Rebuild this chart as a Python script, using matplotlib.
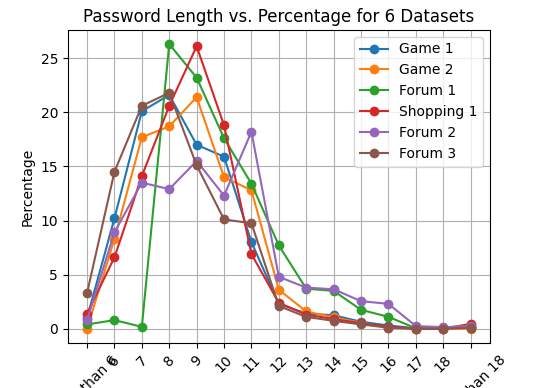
import matplotlib
matplotlib.use('Agg')
import matplotlib.pyplot as plt

categories = ['Less than 6', '6', '7', '8', '9', '10', '11', '12', '13', '14', '15', '16', '17', '18', 'More than 18']

game1 = [1.0, 10.2, 20.1, 21.6, 17.0, 15.9, 8.0, 2.3, 1.4, 1.25, 0.65, 0.3, 0.05, 0.05, 0.2]
game2 = [0.0, 8.3, 17.7, 18.7, 21.4, 14.0, 12.8, 3.6, 1.6, 1.05, 0.55, 0.1, 0.0, 0.0, 0.0]
forum1 = [0.4, 0.8, 0.18, 26.3, 23.2, 17.6, 13.4, 7.7, 3.7, 3.5, 1.75, 1.1, 0.05, 0.05, 0.1]
shopping1 = [1.4, 6.6, 14.1, 20.6, 26.1, 18.8, 6.9, 2.4, 1.3, 0.9, 0.5, 0.2, 0.0, 0.0, 0.45]
forum2 = [0.8, 8.9, 13.5, 12.9, 15.5, 12.3, 18.2, 4.8, 3.8, 3.65, 2.55, 2.3, 0.25, 0.15, 0.25]
forum3 = [3.3, 14.5, 20.6, 21.8, 15.1, 10.1, 9.75, 2.1, 1.1, 0.73, 0.4, 0.1, 0.0, 0.0, 0.1]

series = [('Game 1', game1), ('Game 2', game2), ('Forum 1', forum1),
          ('Shopping 1', shopping1), ('Forum 2', forum2), ('Forum 3', forum3)]

fig, ax = plt.subplots(figsize=(5.43, 3.88), dpi=100)
fig.subplots_adjust(left=0.125, right=0.902, top=0.923, bottom=0.116)

x = list(range(len(categories)))
for name, vals in series:
	ax.plot(x, vals, '-o', label=name)

ax.set_xticks(x)
ax.set_xticklabels(categories, rotation=45)
ax.set_ylabel('Percentage')
ax.set_title('Password Length vs. Percentage for 6 Datasets')
ax.grid(True)
ax.legend()

fig.savefig('out.png')
